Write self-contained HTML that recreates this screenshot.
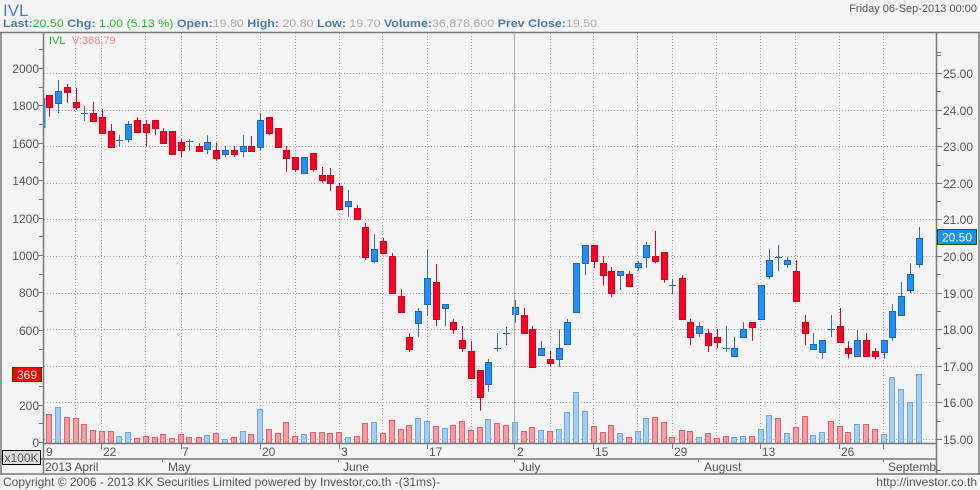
<!DOCTYPE html>
<html><head><meta charset="utf-8"><style>
html,body{margin:0;padding:0;background:#f4f4f4;}
svg{display:block;font-family:"Liberation Sans",sans-serif;}
</style></head><body>
<svg id="s" width="980" height="490" xmlns="http://www.w3.org/2000/svg">
<rect width="980" height="490" fill="#f4f4f4"/>
<text x="3" y="16" font-size="17" fill="#4a7fb8">IVL</text>
<text x="3" y="27" font-size="11" textLength="594" lengthAdjust="spacingAndGlyphs"><tspan font-weight="bold" fill="#4a7ab0">Last:</tspan><tspan fill="#22c022">20.50 </tspan><tspan font-weight="bold" fill="#4a7ab0">Chg:</tspan><tspan fill="#22c022"> 1.00 (5.13 %) </tspan><tspan font-weight="bold" fill="#4a7ab0">Open:</tspan><tspan fill="#aaa">19.80 </tspan><tspan font-weight="bold" fill="#4a7ab0">High:</tspan><tspan fill="#aaa"> 20.80 </tspan><tspan font-weight="bold" fill="#4a7ab0">Low:</tspan><tspan fill="#aaa"> 19.70 </tspan><tspan font-weight="bold" fill="#4a7ab0">Volume:</tspan><tspan fill="#aaa">36,878,600 </tspan><tspan font-weight="bold" fill="#4a7ab0">Prev Close:</tspan><tspan fill="#aaa">19.50</tspan></text>
<text x="977" y="12" font-size="11" fill="#555" text-anchor="end">Friday 06-Sep-2013 00:00</text>
<g id="grid" stroke="#aaa" stroke-dasharray="1,2" stroke-width="1"></g>
<g id="bars"></g>
<g id="candles"></g>
<!-- frame -->
<g stroke="#777" stroke-width="1.5" fill="none">
<line x1="0" y1="32.5" x2="980" y2="32.5"/>
<line x1="1" y1="32" x2="1" y2="474"/>
<line x1="979" y1="32" x2="979" y2="474"/>
<line x1="43.5" y1="32" x2="43.5" y2="474"/>
<line x1="936.5" y1="32" x2="936.5" y2="474"/>
<line x1="43" y1="443.5" x2="937" y2="443.5"/>
<line x1="0" y1="459" x2="937" y2="459"/>
<line x1="0" y1="474" x2="980" y2="474"/>
</g>
<line x1="514.5" y1="33" x2="514.5" y2="443" stroke="#aaa"/>
<g id="ticks" stroke="#777"></g>
<g id="labels" font-size="12" fill="#555"></g>
<text x="49" y="44" font-size="11" fill="#22c022">IVL</text>
<text x="72" y="44" font-size="11" fill="#f88">V:368.79</text>
<rect x="12.5" y="367.5" width="29" height="14" fill="#f00" stroke="#060"/>
<text x="27" y="379" font-size="12" fill="#fff" text-anchor="middle">369</text>
<rect x="2.5" y="450.5" width="38" height="14" fill="#ddd" stroke="#000"/>
<text x="21.5" y="462" font-size="12" fill="#555" text-anchor="middle">x100K</text>
<rect x="937.5" y="229.5" width="39" height="15" fill="#1e8fff" stroke="#060"/>
<text x="957" y="241.5" font-size="12" fill="#fff" text-anchor="middle">20.50</text>
<text x="3" y="486" font-size="12" fill="#555">Copyright © 2006 - 2013 KK Securities Limited powered by Investor.co.th -(31ms)-</text>
<text x="977" y="486" font-size="12" fill="#555" text-anchor="end">http://investor.co.th</text>
</svg>
<script>
var NS="http://www.w3.org/2000/svg";
function el(p,t,a,txt){var e=document.createElementNS(NS,t);for(var k in a)e.setAttribute(k,a[k]);if(txt!=null)e.textContent=txt;document.getElementById(p).appendChild(e);return e;}
// grid
var vx=[75.3,101.3,145.3,180.7,215.7,259.7,294.7,338.7,382.3,426.7,470.5,549.7,593.3,637.3,672.3,716.3,760.3,795.3,839.3,883.3];
vx.forEach(function(x){el("grid","line",{x1:Math.round(x)+.5,y1:33,x2:Math.round(x)+.5,y2:443});});
for(var p=15;p<=25;p++){var y=Math.round(439-(p-15)*36.6)+.5;el("grid","line",{x1:44,y1:y,x2:936,y2:y});
 el("labels","text",{x:943,y:y+4.5},p.toFixed(2));
 el("ticks","line",{x1:936,y1:y,x2:942,y2:y});
 var y2=Math.round(439-(p-15+.5)*36.6)+.5; if(p<25||true) el("ticks","line",{x1:936,y1:y2,x2:941,y2:y2});}
el("ticks","line",{x1:936,y1:52.5,x2:941,y2:52.5});
el("ticks","line",{x1:936,y1:470.5,x2:941,y2:470.5});
for(var v=0;v<=2000;v+=200){var y=Math.round(442-v*0.187)+.5;
 if(v!=400)el("labels","text",{x:39,y:y+4.5,"text-anchor":"end"},String(v));
 el("ticks","line",{x1:39,y1:y,x2:43,y2:y});
 var y2=Math.round(442-(v+100)*0.187)+.5; el("ticks","line",{x1:39,y1:y2,x2:43,y2:y2});}
// date labels
[[46,"9"],[103,"22"],[182,"7"],[262,"20"],[341,"3"],[429,"17"],[517,"2"],[595,"15"],[674,"29"],[762,"13"],[841,"26"]].forEach(function(d){el("labels","text",{x:d[0],y:456},d[1]);});
[101,180.7,259.7,338.7,426.7,514,593,672.3,760,839,883].forEach(function(x){el("ticks","line",{x1:Math.round(x)+.5,y1:444,x2:Math.round(x)+.5,y2:449});});
[[45,"2013 April"],[168,"May"],[343,"June"],[519,"July"],[704,"August"]].forEach(function(d){el("labels","text",{x:d[0],y:471},d[1]);});
el("labels","text",{x:888,y:471,textLength:48,lengthAdjust:"spacingAndGlyphs"},"Septemb");
[162,338,514,698,883].forEach(function(x){el("ticks","line",{x1:x+.5,y1:459,x2:x+.5,y2:462});});
var D=[[48.7,'r',95,106.7,95,116.7,414,'r'],[57.7,'b',91,102.7,80,113,407.3,'b'],[66.7,'r',87.3,91.7,84,102.7,417.3,'r'],[76,'r',102,106.7,88,110,418.3,'r'],[84,'c',113.3,113.3,106,120.7,424.3,'r'],[93,'r',112.7,120.7,101.7,120.7,430.3,'r'],[102,'r',117,132.7,109,132.7,431.3,'r'],[111,'r',131,146.7,124,146.7,431.3,'r'],[119.3,'c',140,140,135,146.7,436.3,'b'],[127.7,'b',124.3,139.3,121,142.7,432.3,'b'],[136.7,'r',120,131.7,117.3,131.7,438.3,'r'],[145.7,'r',124.3,131.7,120,146.7,436.3,'r'],[154.7,'r',120,127.7,120,135.3,437.3,'r'],[163,'r',131,142.7,128.3,142.7,434.3,'r'],[171.7,'r',131,153.7,131,153.7,438.3,'r'],[181,'r',142,149.7,138.7,157.7,434.3,'r'],[189.3,'c',141.3,141.3,138.7,150.7,437.3,'r'],[198.7,'r',146,150.7,143.3,150.7,437.3,'r'],[207,'b',142,149.3,135.3,154,435.3,'b'],[215.7,'r',150,157.7,142.7,160.7,433.3,'r'],[225,'b',150,154.3,146,157.3,439.3,'b'],[234,'r',150,154.3,146,157.3,437.3,'r'],[243,'b',146,150.7,135.3,157.3,431.3,'b'],[251,'r',146,150.7,136,150.7,434.3,'r'],[260,'b',120.3,146.7,112.7,150.7,409.3,'b'],[268.7,'r',117,132.7,117,135.3,429.3,'r'],[277.7,'r',128,146.7,128,146.7,433.3,'r'],[286,'r',150,157.7,146,171.7,422.3,'r'],[295,'r',157.3,168.7,157.3,171.7,436.3,'r'],[303.7,'b',157.3,172.7,157.3,172.7,434.3,'b'],[312.7,'r',153.3,168.7,153.3,171.7,432.3,'r'],[321.7,'r',175,180,167,182.7,432.3,'r'],[330,'r',175,182.7,168,190.7,433,'r'],[339,'r',186,208.7,183,208.7,432.3,'r'],[348,'b',201,205.7,190,216.7,437.3,'b'],[357,'r',208.3,219.3,205,219.3,436.3,'r'],[364.7,'r',227.3,256.7,223,260,423.3,'r'],[373.7,'b',249.3,260.7,234,263.3,422.3,'b'],[382.7,'r',241.3,252.7,238,252.7,433,'r'],[391.7,'r',256,293.3,253,293.3,420.3,'r'],[400.7,'r',296.3,311.7,289.3,311.7,429.3,'r'],[409,'r',337.3,348.7,333.3,352,425.3,'r'],[417.7,'b',311.3,322.7,308.3,336.7,418.3,'b'],[426.7,'b',278.3,304.3,248.7,316,421.3,'b'],[435.7,'r',282,319.3,264,326,426.3,'r'],[444.7,'b',304.3,308.3,304.3,326,428.3,'b'],[452.7,'r',322,329.3,319.3,334,425.3,'r'],[461.7,'r',340,347.7,326,352,421.3,'r'],[470.7,'r',351,377.7,341,377.7,430.3,'r'],[479.7,'r',370,396.7,370,410.7,427.3,'r'],[488,'b',362.3,384.3,359,391.7,419.3,'b'],[496.7,'c',348.3,348.3,333.3,351.7,423.3,'r'],[505.7,'c',333.3,333.3,326.7,345,425.3,'r'],[514.7,'b',307,314.3,300,322.7,422.3,'b'],[523.7,'r',315,333.3,308,333.3,431.3,'r'],[532,'r',329.3,366.7,326,366.7,427.3,'r'],[540.7,'b',348.3,355.3,341,355.3,430.3,'b'],[549.7,'r',359.3,363.3,350.7,366.7,431.3,'r'],[558.7,'b',348.3,359.3,329.3,366.7,429.3,'b'],[566.7,'b',322.3,344.3,319,344.3,412.3,'b'],[575.7,'b',263.3,311.7,263.3,311.7,392.3,'b'],[584.7,'b',245.3,263.3,245.3,275,411.3,'b'],[593.7,'r',245.3,260.7,245.3,268.3,426.3,'r'],[602.7,'r',263.3,274.7,256,285.7,432.3,'r'],[610.7,'r',271.3,293.3,267,296.7,425.3,'r'],[619.7,'b',271.3,275.3,271.3,290,433.3,'b'],[628.7,'r',274.3,285.7,271.3,285.7,437.3,'r'],[637.7,'b',263.3,267.3,260.7,270.7,431.3,'b'],[645.7,'b',245.3,256.7,242,267.7,418.3,'b'],[654.7,'r',256,260.7,231,263.3,417.3,'r'],[663.7,'r',252.3,278.7,252.3,282.7,422.3,'r'],[672.3,'c',285.3,285.3,278.7,294,437.3,'r'],[681.7,'r',278.3,318.7,275.3,318.7,430.3,'r'],[690,'r',322.3,337.3,318.7,344.7,431.3,'r'],[699,'b',326,333.3,322.3,336.7,437.3,'b'],[707.7,'r',333.3,344.7,329.3,352,433.3,'r'],[716.7,'r',337,341.7,329.3,348,438.3,'r'],[725.7,'c',348,348,326,352,436.3,'r'],[734,'b',348,355.7,337,355.7,437.3,'b'],[743,'b',329.3,336.7,322.3,336.7,436.3,'b'],[752,'r',322.3,326.7,322.3,340.7,436.3,'r'],[761,'b',285.3,318.7,285.3,318.7,429.3,'b'],[769,'b',260.3,275.7,249,278.7,415.3,'b'],[777.7,'c',256.7,256.7,245,270.7,418.3,'r'],[786.7,'b',260.3,264.3,256.7,267.7,433.3,'b'],[795.7,'r',271,300.7,260,300.7,427.3,'r'],[804.7,'r',322.3,333.3,315,344.7,416.3,'r'],[813,'b',344.3,348.7,333.3,348.7,435.3,'b'],[822,'b',340.3,351.7,340.3,358.7,432.3,'b'],[831,'c',329.3,329.3,315,337.3,421.3,'r'],[840,'r',326,341.7,308,341.7,426.3,'r'],[848,'r',348,352.7,341.3,358.7,432.3,'r'],[856.7,'b',340.3,355.7,330,355.7,424.3,'b'],[865.7,'r',340.3,355.7,333.3,355.7,424.3,'r'],[874.7,'r',351.3,355.7,348,359.3,429.3,'r'],[883.7,'b',340.3,351.7,340.3,358.7,434.3,'b'],[892,'b',311.3,337.3,304,340.7,377.3,'b'],[901,'b',296.3,314.7,282,314.7,389.3,'b'],[910,'b',274.3,289.7,263.3,293.3,402.3,'b'],[918.7,'b',238.3,264.3,227,267.7,374.3,'b']];
D.forEach(function(d){
 var x=Math.round(d[0]);
 // volume
 var vt=Math.round(d[6]);
 el("bars","rect",{x:x-2.5,y:vt+.5,width:5,height:443-vt-.5,fill:d[7]=='r'?'#f99aa0':'#a3cdf5',stroke:d[7]=='r'?'#e5606c':'#6da8e0','stroke-width':1});
 var col=d[1]=='r'?'#ff0020':'#1e8fff', sc=d[1]=='r'?'#d8001a':'#1a68b8';
 if(d[1]=='c'){col='#2a6fb0';sc=col;}
 el("candles","line",{x1:x+.5,y1:d[4],x2:x+.5,y2:d[5],stroke:d[1]=='r'?'#e0002a':'#2a6fb0','stroke-width':1});
 if(d[1]=='c'){el("candles","line",{x1:x-3,y1:Math.round(d[2])+.5,x2:x+4,y2:Math.round(d[2])+.5,stroke:col});}
 else{var t=Math.round(d[2]),b=Math.round(d[3]);if(b-t<3)b=t+3;
 el("candles","rect",{x:x-2.5,y:t+.5,width:6,height:b-t,fill:col,stroke:sc,'stroke-width':1});}
});
el("candles","line",{x1:44.5,y1:98,x2:44.5,y2:128,stroke:'#1e8fff','stroke-width':2});
</script>
</body></html>
